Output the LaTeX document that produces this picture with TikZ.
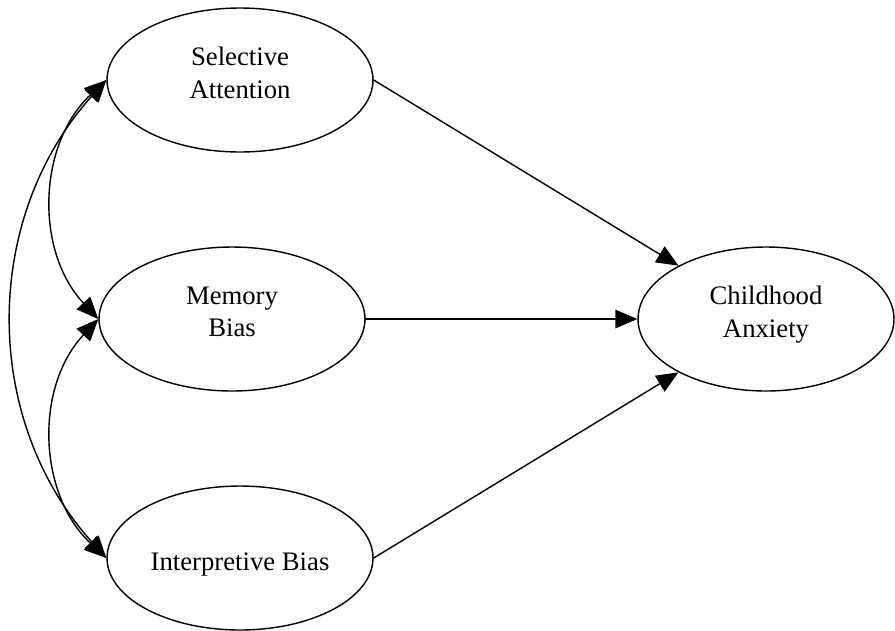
\documentclass[tikz,border=0pt]{standalone}
\usepackage{fontspec}
\setmainfont{Liberation Serif}
\usetikzlibrary{shapes.geometric,arrows.meta}

\begin{document}
\begin{tikzpicture}[
				x=0.02cm,
				y=-0.02cm,
				line cap=round,
				line join=round,
				line width=0.8pt,
				>={Triangle[length=12.5pt,width=10.5pt]},
				latent/.style={draw, ellipse, inner sep=0pt,
					minimum width=5.32cm, minimum height=2.88cm,
					align=center, font=\fontsize{15.2}{18.5}\selectfont},
				twoline/.style={text depth=0.3cm},
				oneline/.style={text height=0.6cm, text depth=0.12cm}
				]
				\useasboundingbox (0,0) rectangle (895,630);
				
				% Predictors
				\node[latent, twoline] (SA) at (240,80) {Selective\\Attention};
				\node[latent, twoline] (MB) at (232,319) {Memory\\Bias};
				\node[latent, oneline] (IB) at (240,558) {Interpretive Bias};
				
				% Outcome
				\node[latent, twoline, minimum width=5.12cm] (CA) at (766,319) {Childhood\\Anxiety};
				
				% Paths
				\draw[->] (SA.east) -- (CA);
				\draw[->] (MB.east) -- (CA.west);
				\draw[->] (IB.east) -- (CA);
				
				% Correlations
				\draw[<->] (SA.west) to[bend right=45] (MB.west);
				\draw[<->] (MB.west) to[bend right=45] (IB.west);
				\draw[<->] (SA.west) to[bend right=42] (IB.west);
			\end{tikzpicture}
\end{document}
